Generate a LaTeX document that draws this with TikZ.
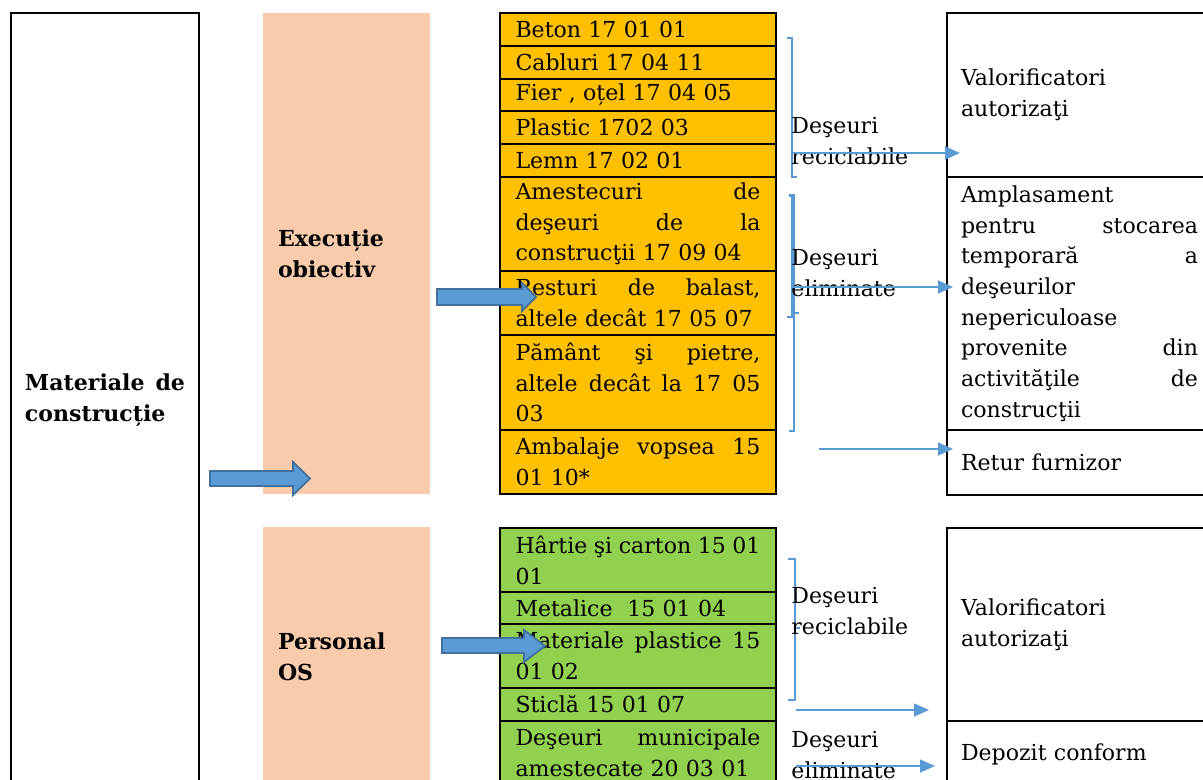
\documentclass[tikz,border=0pt]{standalone}
\usepackage{fontspec}
\setmainfont{DejaVu Serif}
\usetikzlibrary{arrows.meta,positioning}
\definecolor{cellOrange}{HTML}{FFC000}
\definecolor{cellGreen}{HTML}{92D050}
\definecolor{peach}{HTML}{F8CBAD}
\definecolor{flowBlue}{HTML}{5B9BD5}
\definecolor{flowEdge}{HTML}{41719C}
\newcommand{\cellfont}{\fontsize{9.7pt}{13.5pt}\selectfont}
\def\px{0.44pt}

\begin{document}
\begin{tikzpicture}[x=\px, y=-\px, >=Latex]

    \tikzset{
        cell/.style={draw, line width=0.9pt, outer sep=0pt, inner ysep=0pt,
            text width=245*\px, inner xsep=15.5*\px, align=left, font=\cellfont},
        ocell/.style={cell, fill=cellOrange},
        gcell/.style={cell, fill=cellGreen},
        rbox/.style={draw, line width=0.9pt, outer sep=0pt, inner ysep=0pt,
            text width=237*\px, inner xsep=14*\px, align=left, font=\cellfont},
        peachbox/.style={fill=peach, outer sep=0pt, inner ysep=0pt,
            text width=137*\px, inner xsep=15*\px, align=left, font=\cellfont\bfseries},
        lbl/.style={anchor=north west, inner sep=0pt, align=left, font=\cellfont},
        flow/.style={-{Triangle[length=6.6pt,width=5.7pt]}, flowBlue, line width=0.8pt},
        brace/.style={flowBlue, line width=0.55pt},
        blockarr/.style={fill=flowBlue, draw=flowEdge, line width=0.8pt}
    }

    \useasboundingbox (0,0) rectangle (1203,780);
    \clip (0,0) rectangle (1203,780);

    % source column
    \node[draw, line width=0.9pt, outer sep=0pt, inner ysep=0pt, text width=160*\px,
        inner xsep=14*\px, align=left, font=\cellfont\bfseries,
        minimum height=774*\px, anchor=north west] (mat) at (11,13)
        {Materiale\hfill de\\construcție};

    % activities
    \node[peachbox, minimum height=481*\px, anchor=north west] (exec) at (263,13)
        {Execuție\\obiectiv};
    \node[peachbox, minimum height=260*\px, anchor=north west] (pers) at (263,527)
        {Personal\\OS};

    % waste list, works
    \node[ocell, minimum height=33*\px, anchor=north west] (o1) at (500,13) {Beton 17 01 01};
    \node[ocell, minimum height=33*\px, below=0pt of o1] (o2) {Cabluri 17 04 11};
    \node[ocell, minimum height=32*\px, below=0pt of o2] (o3) {Fier , oțel 17 04 05};
    \node[ocell, minimum height=33*\px, below=0pt of o3] (o4) {Plastic 1702 03};
    \node[ocell, minimum height=33*\px, below=0pt of o4] (o5) {Lemn 17 02 01};
    \node[ocell, minimum height=94*\px, below=0pt of o5] (o6)
        {Amestecuri\hfill de\\deşeuri\hfill de\hfill la\\construcţii 17 09 04};
    \node[ocell, minimum height=64*\px, below=0pt of o6] (o7)
        {Resturi\hfill de\hfill balast,\\altele decât 17 05 07};
    \node[ocell, minimum height=95*\px, below=0pt of o7] (o8)
        {Pământ\hfill şi\hfill pietre,\\altele\hfill decât\hfill la\hfill 17\hfill 05\\03};
    \node[ocell, minimum height=64*\px, below=0pt of o8] (o9)
        {Ambalaje\hfill vopsea\hfill 15\\01 10*};

    % waste list, staff
    \node[gcell, minimum height=64*\px, anchor=north west] (g1) at (500,528)
        {Hârtie\hfill şi\hfill carton\hfill 15\hfill 01\\01};
    \node[gcell, minimum height=32*\px, below=0pt of g1] (g2) {Metalice~~15 01 04};
    \node[gcell, minimum height=64*\px, below=0pt of g2] (g3)
        {Materiale\hfill plastice\hfill 15\\01 02};
    \node[gcell, minimum height=33*\px, below=0pt of g3] (g4) {Sticlă 15 01 07};
    \node[gcell, minimum height=64*\px, below=0pt of g4] (g5)
        {Deşeuri\hfill municipale\\amestecate 20 03 01};

    % destinations
    \node[rbox, minimum height=164*\px, anchor=north west] (r1) at (947,13)
        {Valorificatori\\autorizaţi};
    \node[rbox, minimum height=253*\px, below=0pt of r1] (r2)
        {Amplasament\\pentru\hfill stocarea\\temporară\hfill a\\deşeurilor\\nepericuloase\\
         provenite\hfill din\\activităţile\hfill de\\construcţii};
    \node[rbox, minimum height=65*\px, below=0pt of r2] (r3) {Retur furnizor};
    \node[rbox, minimum height=193*\px, anchor=north west] (r4) at (947,528)
        {Valorificatori\\autorizaţi};
    \node[rbox, minimum height=66*\px, below=0pt of r4] (r5) {Depozit conform};

    % groupings
    \draw[brace] (787,38) -- (792,38) -- (792,177) -- (797,177);
    \draw[brace] (789,196) -- (792,196) -- (792,317) -- (787,317);
    \draw[brace] (789,195) -- (794,195) -- (794,431) -- (789,431);
    \draw[brace] (794,313) -- (799,313);
    \draw[brace] (788,559) -- (795,559) -- (795,700) -- (788,700);
    \draw[brace] (795,628) -- (800,628);

    \node[lbl] (recA) at (791,111.5) {\strut Deşeuri\\reciclabile};
    \node[lbl] (elimA) at (791,243.5) {\strut Deşeuri\\eliminate};
    \node[lbl] (recB) at (791,581.5) {\strut Deşeuri\\reciclabile};
    \node[lbl] (elimB) at (791,725.5) {\strut Deşeuri\\eliminate};

    % thin flows to destinations
    \coordinate (fa) at (792,153);
    \coordinate (fb) at (792,287);
    \coordinate (fc) at (819,449);
    \coordinate (fd) at (796,710);
    \coordinate (fe) at (796,766);
    \draw[flow] (fa) -- +(168,0);
    \draw[flow] (fb) -- +(161,0);
    \draw[flow] (fc) -- +(134,0);
    \draw[flow] (fd) -- +(133,0);
    \draw[flow] (fe) -- +(139,0);

    % block arrows
    \draw[blockarr] (210,471) -- (293,471) -- (293,462) -- (310,478.5)
        -- (293,495) -- (293,486) -- (210,486) -- cycle;
    \draw[blockarr] (437,289) -- (522,289) -- (522,283) -- (536,297)
        -- (522,311) -- (522,305) -- (437,305) -- cycle;
    \draw[blockarr] (442,638) -- (524,638) -- (524,630) -- (545,646)
        -- (524,662) -- (524,653) -- (442,653) -- cycle;

\end{tikzpicture}
\end{document}
